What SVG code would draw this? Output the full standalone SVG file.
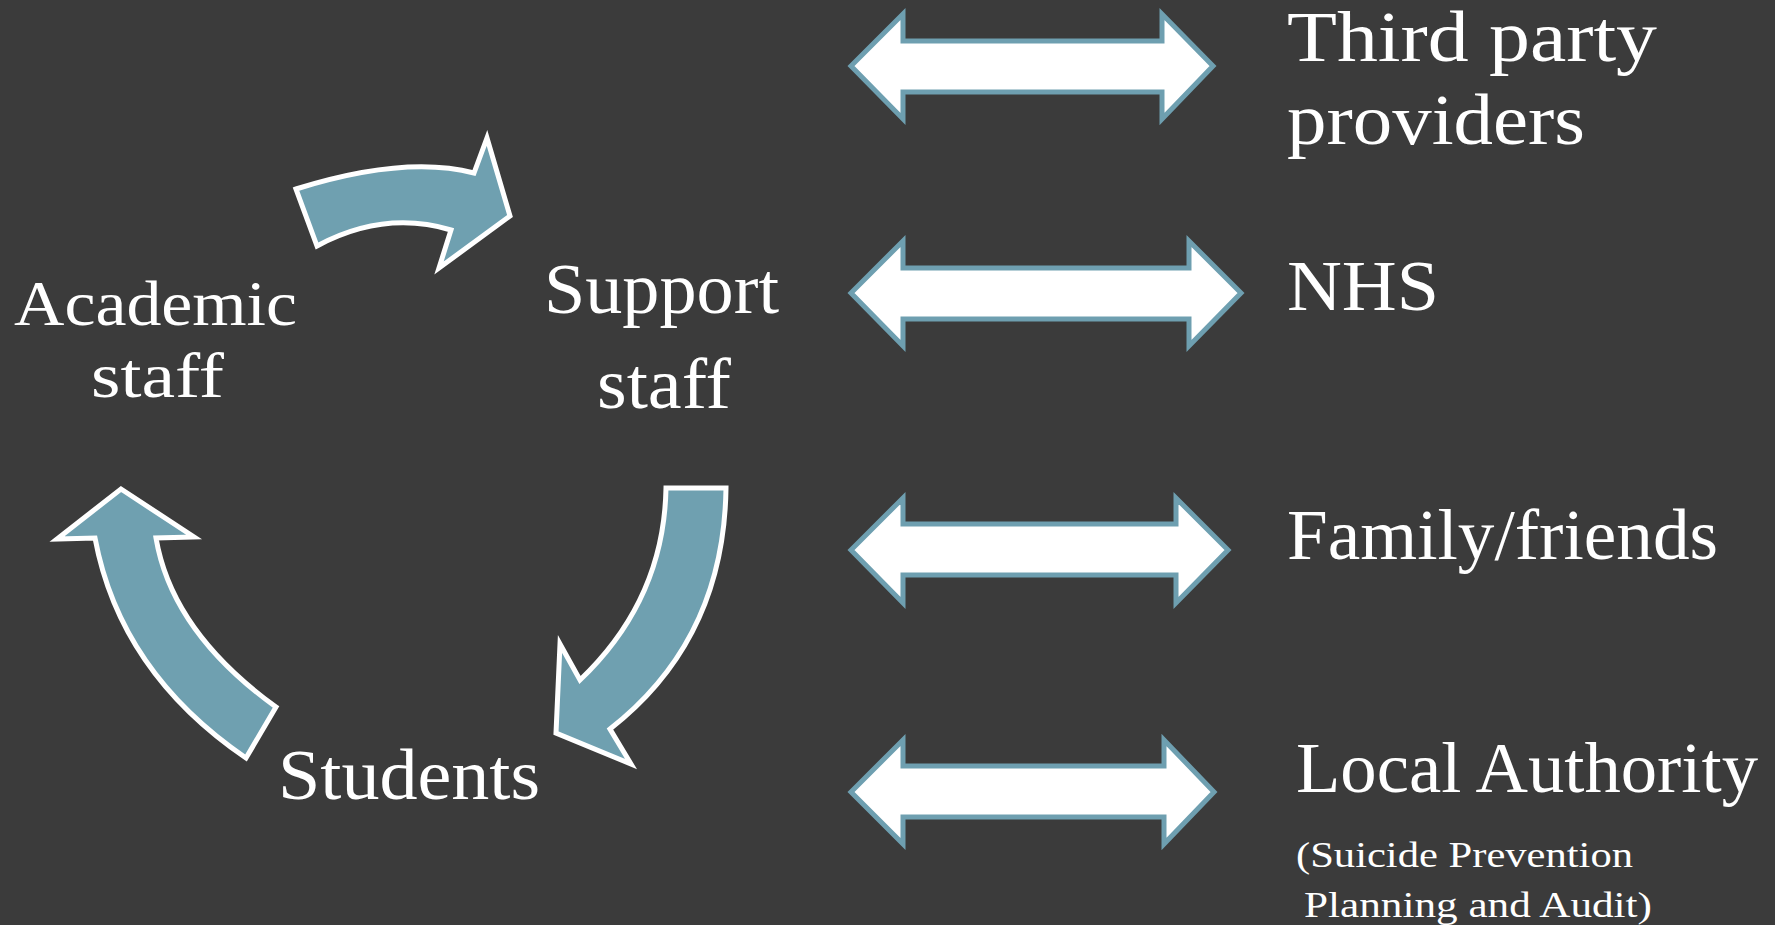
<svg xmlns="http://www.w3.org/2000/svg" width="1775" height="925" viewBox="0 0 1775 925">
<style>
.bg{fill:#3b3b3b}
.lbl{font-family:"Liberation Serif","Times New Roman",serif;fill:#ffffff;font-size:72px}
.lbl2{font-family:"Liberation Serif","Times New Roman",serif;fill:#ffffff;font-size:64px}
.sm{font-family:"Liberation Serif","Times New Roman",serif;fill:#ffffff;font-size:36px}
.curve{fill:#6fa0b0;stroke:#ffffff;stroke-width:5;stroke-linejoin:miter}
.dbl{fill:#ffffff;stroke:#6e9fb0;stroke-width:5;stroke-linejoin:miter}
</style>
<rect class="bg" x="0" y="0" width="1775" height="925"/>
<g id="connectors">
  <path class="curve" d="M296,189 Q405,155 474,173 L487,138 L510,216 L439,268 L451,230 Q384,210 317,246 Z"/>
  <path class="curve" d="M666,488 L726,488 Q724,640 610,729 L631,764 L556,733 L560,644 L580,680 Q664,600 666,488 Z"/>
  <path class="curve" d="M246,758 Q120,672 95,538 L57,539 L121,489 L194,537 L156,538 Q172,632 276,707 Z"/>
  <path class="dbl" d="M851,66 L903,14 L903,41 L1162,41 L1162,14 L1213,66 L1162,119 L1162,92 L903,92 L903,119 Z"/>
  <path class="dbl" d="M851,293 L903,241 L903,268 L1189,268 L1189,241 L1241,293 L1189,346 L1189,319 L903,319 L903,346 Z"/>
  <path class="dbl" d="M851,550 L903,498 L903,524 L1176,524 L1176,498 L1228,550 L1176,603 L1176,575 L903,575 L903,603 Z"/>
  <path class="dbl" d="M851,792 L903,740 L903,766 L1164,766 L1164,740 L1214,792 L1164,844 L1164,817 L903,817 L903,844 Z"/>
</g>
<g id="academic-staff">
  <text class="lbl2" x="14" y="325" textLength="283" lengthAdjust="spacingAndGlyphs">Academic</text>
  <text class="lbl2" x="91" y="397" textLength="133" lengthAdjust="spacingAndGlyphs">staff</text>
</g>
<g id="support-staff">
  <text class="lbl" x="544" y="313" textLength="235" lengthAdjust="spacingAndGlyphs">Support</text>
  <text class="lbl" x="597" y="408" textLength="134" lengthAdjust="spacingAndGlyphs">staff</text>
</g>
<g id="students">
  <text class="lbl" x="278" y="799" textLength="262" lengthAdjust="spacingAndGlyphs">Students</text>
</g>
<g id="third-party">
  <text class="lbl" x="1287" y="61" textLength="370" lengthAdjust="spacingAndGlyphs">Third party</text>
  <text class="lbl" x="1287" y="144" textLength="298" lengthAdjust="spacingAndGlyphs">providers</text>
</g>
<g id="nhs">
  <text class="lbl" x="1287" y="310" textLength="152" lengthAdjust="spacingAndGlyphs">NHS</text>
</g>
<g id="family-friends">
  <text class="lbl" x="1287" y="559" textLength="431" lengthAdjust="spacingAndGlyphs">Family/friends</text>
</g>
<g id="local-authority">
  <text class="lbl" x="1296" y="792" textLength="462" lengthAdjust="spacingAndGlyphs">Local Authority</text>
  <text class="sm" x="1296" y="867" textLength="337" lengthAdjust="spacingAndGlyphs">(Suicide Prevention</text>
  <text class="sm" x="1304" y="917" textLength="348" lengthAdjust="spacingAndGlyphs">Planning and Audit)</text>
</g>
</svg>
